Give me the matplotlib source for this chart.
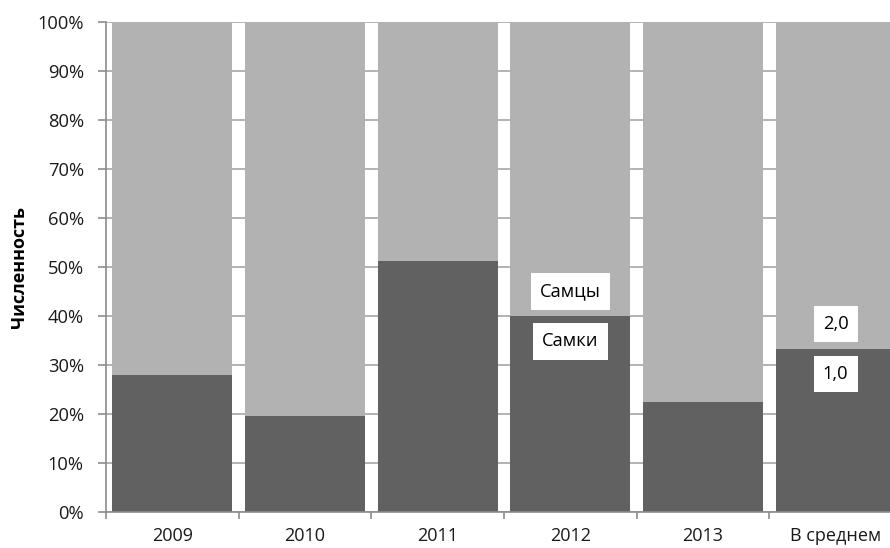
import matplotlib
matplotlib.use("Agg")
import matplotlib.pyplot as plt
import numpy as np

categories = ["2009", "2010", "2011", "2012", "2013", "В среднем"]
females = [28.0, 19.6, 51.2, 39.9, 22.5, 33.3]   # Самки, %
males = [100 - f for f in females]                # Самцы, %
y_ticks = [0, 10, 20, 30, 40, 50, 60, 70, 80, 90, 100]

# labels drawn on two of the bars: (bar index, upper text, lower text)
bar_labels = [(3, "Самцы", "Самки"), (5, "2,0", "1,0")]

dark = "#616161"
light = "#b2b2b2"
axis_gray = "#8c8c8c"

plt.rcParams["font.family"] = ["Open Sans", "DejaVu Sans"]

fig = plt.figure(figsize=(8.9, 5.48), dpi=100)
ax = fig.add_axes([106 / 890, 36 / 548, 796 / 890, 490 / 548])

x = np.arange(len(categories))
ax.bar(x, females, width=0.905, color=dark, zorder=2)
ax.bar(x, males, bottom=females, width=0.905, color=light, zorder=2)

ax.set_xlim(-0.5, len(categories) - 0.5)
ax.set_ylim(0, 100)

ax.set_yticks(y_ticks)
ax.set_yticklabels([f"{v}%" for v in y_ticks])
ax.yaxis.grid(True, color="#a6a6a6", linewidth=1.2, zorder=0)
ax.set_axisbelow(True)

# category boundaries carry the tick marks, centres carry the labels
ax.set_xticks(np.arange(len(categories) + 1) - 0.5)
ax.set_xticklabels([])
ax.set_xticks(x, minor=True)
ax.set_xticklabels(categories, minor=True)
ax.tick_params(axis="x", which="major", length=5, width=1.2, color=axis_gray)
ax.tick_params(axis="x", which="minor", length=0, pad=11, labelsize=13, labelcolor="#1a1a1a")
ax.tick_params(axis="y", length=6, width=1.2, color=axis_gray, labelsize=13.2,
               labelcolor="#1a1a1a", pad=10)

for side in ("top", "right"):
    ax.spines[side].set_visible(False)
for side in ("left", "bottom"):
    ax.spines[side].set_color(axis_gray)
    ax.spines[side].set_linewidth(1.2)
    ax.spines[side].set_zorder(3)

ax.set_ylabel("Численность", fontsize=13, fontweight="bold")
ax.yaxis.set_label_coords(-0.0985, 0.5)

box = dict(boxstyle="square,pad=0.5", facecolor="white", edgecolor="none")
for idx, upper, lower in bar_labels:
    y = females[idx]
    ax.annotate(upper, (idx, y), xytext=(0, 18), textcoords="offset points",
                ha="center", va="center", fontsize=13.2, bbox=box, zorder=4)
    ax.annotate(lower, (idx, y), xytext=(0, -18), textcoords="offset points",
                ha="center", va="center", fontsize=13.2, bbox=box, zorder=4)

fig.savefig("out.png", dpi=100)
